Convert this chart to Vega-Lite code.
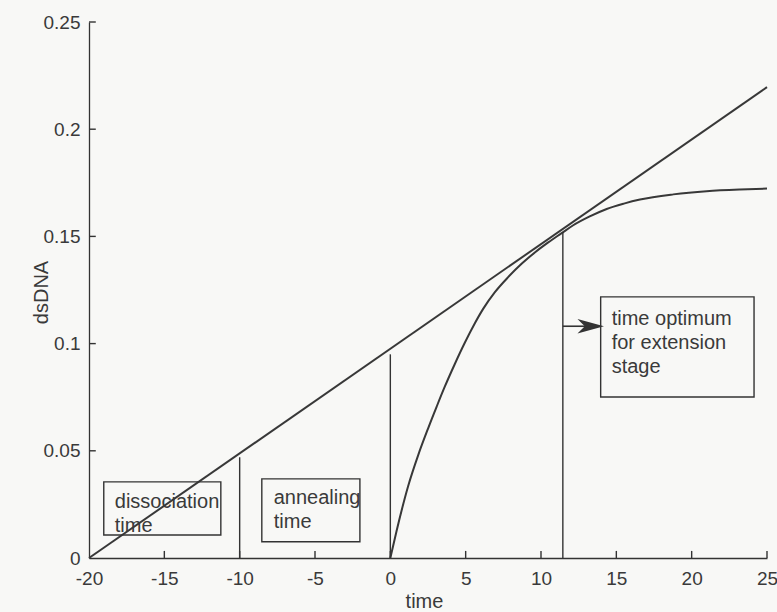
{
  "$schema": "https://vega.github.io/schema/vega-lite/v6.json",
  "width": 678,
  "height": 536,
  "autosize": {"type": "none"},
  "padding": {"left": 89, "top": 22, "right": 10, "bottom": 54},
  "background": "#f8f8f6",
  "config": {
    "view": {"stroke": null},
    "font": "Liberation Sans",
    "axis": {
      "domainColor": "#333333",
      "domainWidth": 1.3,
      "ticks": false,
      "grid": false,
      "labelFlush": false,
      "labelFont": "Liberation Sans",
      "labelFontSize": 19,
      "labelColor": "#3a3a3a",
      "titleFont": "Liberation Sans",
      "titleFontSize": 20,
      "titleFontWeight": "normal",
      "titleColor": "#3a3a3a"
    },
    "text": {"font": "Liberation Sans", "fontSize": 20, "color": "#3a3a3a", "lineHeight": 24}
  },
  "datasets": {
    "tangent": [
      {"t": -20, "dsDNA": 0},
      {"t": 25, "dsDNA": 0.2196}
    ],
    "extension": [
      {"t": 0, "dsDNA": 0},
      {"t": 0.41, "dsDNA": 0.0125},
      {"t": 1.18, "dsDNA": 0.0335},
      {"t": 1.85, "dsDNA": 0.048},
      {"t": 2.51, "dsDNA": 0.0605},
      {"t": 3.07, "dsDNA": 0.0705},
      {"t": 3.62, "dsDNA": 0.08},
      {"t": 4.28, "dsDNA": 0.0905},
      {"t": 4.95, "dsDNA": 0.1005},
      {"t": 5.61, "dsDNA": 0.1095},
      {"t": 6.16, "dsDNA": 0.1162},
      {"t": 6.94, "dsDNA": 0.124},
      {"t": 7.82, "dsDNA": 0.131},
      {"t": 8.71, "dsDNA": 0.1372},
      {"t": 9.59, "dsDNA": 0.1425},
      {"t": 10.48, "dsDNA": 0.1472},
      {"t": 11.37, "dsDNA": 0.1515},
      {"t": 12.14, "dsDNA": 0.1552},
      {"t": 13.2, "dsDNA": 0.1592},
      {"t": 14.36, "dsDNA": 0.1628},
      {"t": 15.5, "dsDNA": 0.1653},
      {"t": 16.57, "dsDNA": 0.1672},
      {"t": 18.78, "dsDNA": 0.1696},
      {"t": 20.99, "dsDNA": 0.1711},
      {"t": 23.2, "dsDNA": 0.1719},
      {"t": 25, "dsDNA": 0.1723}
    ],
    "stages": [
      {"t": -10, "bottom": 0, "top": 0.047},
      {"t": 0, "bottom": 0, "top": 0.095},
      {"t": 11.45, "bottom": 0, "top": 0.152}
    ],
    "ticksX": [
      {"t": -15, "bottom": 0, "top": 0.0033},
      {"t": -10, "bottom": 0, "top": 0.0033},
      {"t": -5, "bottom": 0, "top": 0.0033},
      {"t": 0, "bottom": 0, "top": 0.0033},
      {"t": 5, "bottom": 0, "top": 0.0033},
      {"t": 10, "bottom": 0, "top": 0.0033},
      {"t": 15, "bottom": 0, "top": 0.0033},
      {"t": 20, "bottom": 0, "top": 0.0033},
      {"t": 25, "bottom": 0, "top": 0.0033}
    ],
    "ticksY": [
      {"v": 0.05, "left": -20, "right": -19.55},
      {"v": 0.1, "left": -20, "right": -19.55},
      {"v": 0.15, "left": -20, "right": -19.55},
      {"v": 0.2, "left": -20, "right": -19.55},
      {"v": 0.25, "left": -20, "right": -19.55}
    ],
    "boxes": [
      {"t1": -19.02, "t2": -11.25, "y1": 0.0107, "y2": 0.0355},
      {"t1": -8.53, "t2": -2.02, "y1": 0.0076, "y2": 0.0369},
      {"t1": 13.96, "t2": 24.14, "y1": 0.0751, "y2": 0.1218}
    ],
    "notes": [
      {"t": -18.29, "dsDNA": 0.0234, "label": ["dissociation", "time"]},
      {"t": -7.74, "dsDNA": 0.0252, "label": ["annealing", "time"]},
      {"t": 14.69, "dsDNA": 0.1089, "label": ["time optimum", "for extension", "stage"]}
    ],
    "arrow": [
      {"t": 11.45, "t2": 13.0, "dsDNA": 0.1081}
    ],
    "arrowhead": [
      {"t": 13.3, "dsDNA": 0.1081}
    ]
  },
  "layer": [
    {
      "data": {"name": "tangent"},
      "mark": {"type": "line", "color": "#383838", "strokeWidth": 2},
      "encoding": {
        "x": {
          "field": "t", "type": "quantitative", "title": "time",
          "scale": {"domain": [-20, 25], "nice": false, "zero": false},
          "axis": {
            "values": [-20, -15, -10, -5, 0, 5, 10, 15, 20, 25],
            "labelExpr": "datum.value + ''",
            "labelPadding": 26,
            "labelBaseline": "alphabetic",
            "titleY": 49,
            "titleX": 335,
            "titleBaseline": "alphabetic"
          }
        },
        "y": {
          "field": "dsDNA", "type": "quantitative", "title": "dsDNA",
          "scale": {"domain": [0, 0.25], "nice": false},
          "axis": {
            "values": [0, 0.05, 0.1, 0.15, 0.2, 0.25],
            "labelExpr": "datum.value + ''",
            "labelPadding": 9,
            "titleX": -42,
            "titleY": 270,
            "titleAngle": -90,
            "titleAlign": "center",
            "titleBaseline": "alphabetic"
          }
        }
      }
    },
    {
      "data": {"name": "ticksX"},
      "mark": {"type": "rule", "color": "#333333", "strokeWidth": 1.4},
      "encoding": {
        "x": {"field": "t", "type": "quantitative"},
        "y": {"field": "bottom", "type": "quantitative"},
        "y2": {"field": "top"}
      }
    },
    {
      "data": {"name": "ticksY"},
      "mark": {"type": "rule", "color": "#333333", "strokeWidth": 1.4},
      "encoding": {
        "y": {"field": "v", "type": "quantitative"},
        "x": {"field": "left", "type": "quantitative"},
        "x2": {"field": "right"}
      }
    },
    {
      "data": {"name": "extension"},
      "mark": {"type": "line", "color": "#383838", "strokeWidth": 2, "interpolate": "monotone"},
      "encoding": {
        "x": {"field": "t", "type": "quantitative"},
        "y": {"field": "dsDNA", "type": "quantitative"}
      }
    },
    {
      "data": {"name": "stages"},
      "mark": {"type": "rule", "color": "#333333", "strokeWidth": 1.4},
      "encoding": {
        "x": {"field": "t", "type": "quantitative"},
        "y": {"field": "bottom", "type": "quantitative"},
        "y2": {"field": "top"}
      }
    },
    {
      "data": {"name": "boxes"},
      "mark": {"type": "rect", "fillOpacity": 0, "stroke": "#333333", "strokeWidth": 1.4},
      "encoding": {
        "x": {"field": "t1", "type": "quantitative"},
        "x2": {"field": "t2"},
        "y": {"field": "y1", "type": "quantitative"},
        "y2": {"field": "y2"}
      }
    },
    {
      "data": {"name": "arrow"},
      "mark": {"type": "rule", "color": "#333333", "strokeWidth": 1.6},
      "encoding": {
        "x": {"field": "t", "type": "quantitative"},
        "x2": {"field": "t2"},
        "y": {"field": "dsDNA", "type": "quantitative"}
      }
    },
    {
      "data": {"name": "arrowhead"},
      "mark": {"type": "point", "shape": "M-1,-0.55L1,0L-1,0.55L-0.45,0Z", "filled": true, "color": "#333333", "size": 700, "opacity": 1},
      "encoding": {
        "x": {"field": "t", "type": "quantitative"},
        "y": {"field": "dsDNA", "type": "quantitative"}
      }
    },
    {
      "data": {"name": "notes"},
      "mark": {"type": "text", "align": "left", "baseline": "alphabetic"},
      "encoding": {
        "x": {"field": "t", "type": "quantitative"},
        "y": {"field": "dsDNA", "type": "quantitative"},
        "text": {"field": "label"}
      }
    }
  ]
}
